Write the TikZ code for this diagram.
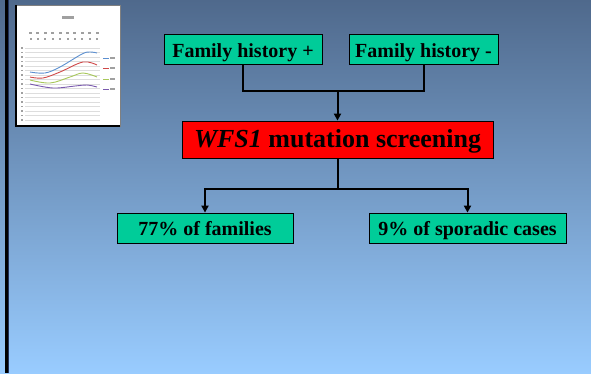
\documentclass[tikz,border=0pt]{standalone}
\usepackage{fontspec}
\setmainfont{Liberation Serif}
\usetikzlibrary{arrows.meta}
\definecolor{bgtop}{HTML}{4F698C}
\definecolor{bgmid}{HTML}{7AA2CF}
\definecolor{bgbot}{HTML}{99CCFF}
\definecolor{boxgreen}{HTML}{00CC99}
\definecolor{edgenavy}{HTML}{1F2F5A}
\definecolor{gridgray}{HTML}{DDDDDD}
\definecolor{markgray}{HTML}{A0A0A0}
\definecolor{cblue}{HTML}{5B8FD0}
\definecolor{cred}{HTML}{D04848}
\definecolor{cgreen}{HTML}{A8C85A}
\definecolor{cpurple}{HTML}{7A5AAE}
\tikzset{
  greenbox/.style={draw=black, line width=0.8pt, fill=boxgreen, inner sep=0pt,
    minimum height=30, text height=15pt, text depth=0pt,
    font=\bfseries\fontsize{20}{22}\selectfont},
  redbox/.style={draw=black, line width=0.8pt, fill=red, inner sep=0pt,
    minimum height=37, minimum width=311, text height=17.5pt, text depth=1pt,
    font=\bfseries\fontsize{26}{28}\selectfont},
  conn/.style={draw=black, line width=2pt},
  connarrow/.style={conn, -{Triangle[length=7pt,width=7pt]}},
  tinymark/.style={fill=markgray},
  curve/.style={line width=0.9pt, smooth, tension=0.6}
}
\begin{document}
\begin{tikzpicture}[x=1pt,y=-1pt]
\useasboundingbox (0,0) rectangle (591,373);
% slide background
\shade[top color=bgtop, middle color=bgmid, bottom color=bgbot] (0,0) rectangle (591,373);
\fill[black] (5,0) rectangle (8,373);
\draw[edgenavy, line width=0.8pt] (8.6,0) -- (8.6,373);

% small chart thumbnail
\fill[white] (16,5) rectangle (120,126);
\draw[gray, line width=0.6pt] (16,5) rectangle (120,126);
\draw[black, line width=1.4pt] (16,5) -- (16,126) -- (120,126);
% title and column headers
\fill[tinymark] (62,16) rectangle (74,19);
\foreach \i in {0,...,9} {
  \fill[tinymark] (29+7.4*\i,32) rectangle (32+7.4*\i,34);
  \fill[tinymark] (29.5+7.4*\i,38) rectangle (31.5+7.4*\i,40);
}
% grid lines and axis marks
\foreach \k in {0,...,16} {
  \draw[gridgray, line width=0.5pt] (25,48+4.5*\k) -- (100,48+4.5*\k);
  \fill[tinymark] (20.5,47.3+4.5*\k) rectangle (22.5,48.7+4.5*\k);
}
% data curves
\draw[cblue, curve] plot coordinates {(30,72) (45,73) (60,67) (82,54) (90,52) (97,53)};
\draw[cred, curve] plot coordinates {(30,77) (43,78) (60,72) (83,62) (97,65)};
\draw[cgreen, curve] plot coordinates {(30,80) (50,83) (70,77) (83,73) (97,77)};
\draw[cpurple, curve] plot coordinates {(30,84) (53,88) (75,86) (87,85) (97,87)};
% legend
\draw[cblue, line width=0.9pt] (103,58) -- (109,58);
\draw[cred, line width=0.9pt] (103,68) -- (109,68);
\draw[cgreen, line width=0.9pt] (103,79) -- (109,79);
\draw[cpurple, line width=0.9pt] (103,89) -- (109,89);
\foreach \yy in {58,68,79,89} \fill[tinymark] (110,\yy-0.8) rectangle (115,\yy+0.8);

% flow chart
\node[greenbox, minimum width=158] (fhp) at (243,49.5) {Family history +};
\node[greenbox, minimum width=149] (fhm) at (423.5,49.5) {Family history -};
\node[redbox] (wfs) at (337.5,139.5) {\textit{WFS1} mutation screening};
\node[greenbox, minimum width=176] (fam) at (205,228) {77\% of families};
\node[greenbox, minimum width=197] (spo) at (467.5,228) {9\% of sporadic cases};

\coordinate (jtop) at (wfs.north |- 0,91);
\coordinate (jbot) at (wfs.south |- 0,189);
\draw[conn] (fhp.south) |- (jtop) -| (fhm.south);
\draw[connarrow] (jtop) -- (wfs.north);
\draw[conn] (wfs.south) -- (jbot);
\draw[connarrow] (jbot) -| (fam.north);
\draw[connarrow] (jbot) -| (spo.north);
\end{tikzpicture}
\end{document}
